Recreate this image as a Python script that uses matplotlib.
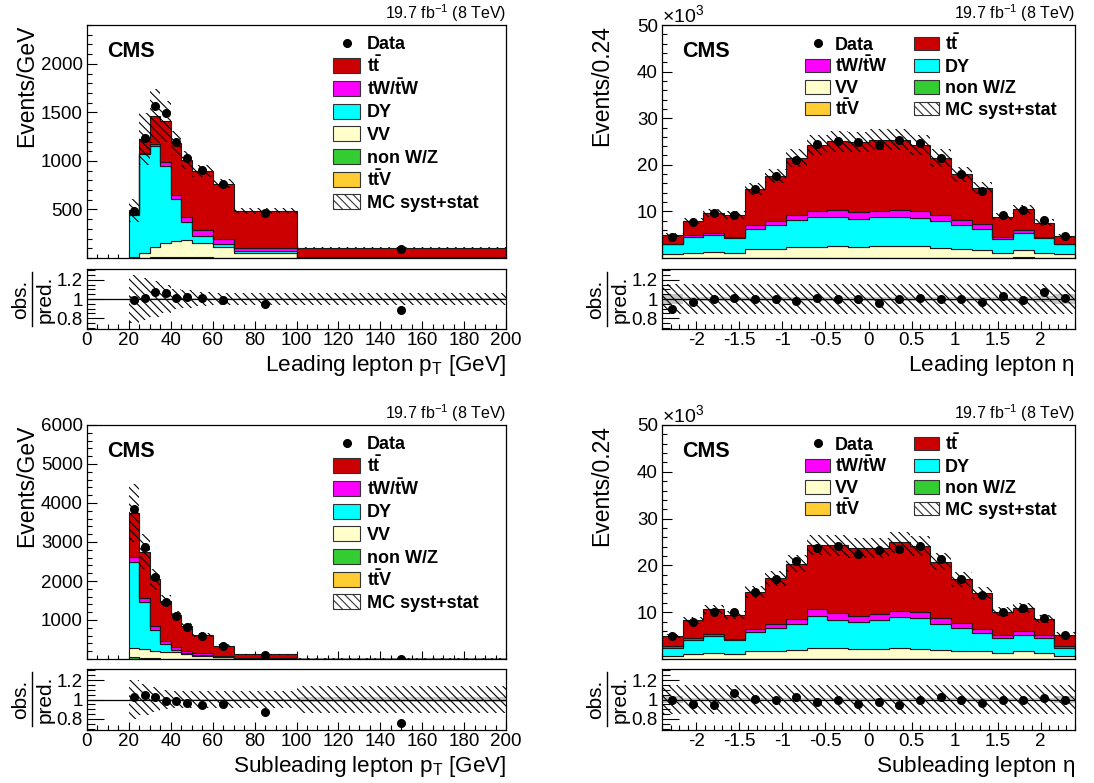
import numpy as np
import matplotlib
matplotlib.use('Agg')
import matplotlib.pyplot as plt
from matplotlib.patches import Rectangle
from matplotlib.lines import Line2D
from matplotlib.ticker import FixedLocator, MultipleLocator, NullFormatter, FixedFormatter

plt.rcParams['font.family'] = ['Liberation Sans', 'DejaVu Sans']
plt.rcParams['mathtext.fontset'] = 'custom'
plt.rcParams['mathtext.rm'] = 'Liberation Sans'
plt.rcParams['mathtext.it'] = 'Liberation Sans:italic'
plt.rcParams['mathtext.bf'] = 'Liberation Sans:bold'
plt.rcParams['hatch.color'] = 'black'
plt.rcParams['hatch.linewidth'] = 0.8

# ---------------- data ----------------
pt_edges = [20, 25, 30, 35, 40, 45, 50, 60, 70, 100, 200]
eta_edges = [-2.4, -2.16, -1.92, -1.68, -1.44, -1.2, -0.96, -0.72, -0.48, -0.24, 0.0,
             0.24, 0.48, 0.72, 0.96, 1.2, 1.44, 1.68, 1.92, 2.16, 2.4]

# Leading lepton pT  (Events/GeV)
lpt_data  = [485, 1237, 1569, 1492, 1195, 1031, 909, 758, 462, 96]
lpt_tt    = [38, 140, 291, 421, 533, 591, 611, 570, 383, 100]
lpt_tw    = [12, 15, 17, 36, 45, 52, 62, 51, 27, 3]
lpt_dy    = [427, 1015, 1041, 800, 430, 183, 76, 28, 21, 1]
lpt_vv    = [10, 50, 111, 145, 168, 175, 145, 112, 52, 3]
lpt_nonwz = [2, 3, 4, 4, 5, 8, 4, 3, 2, 0.5]
lpt_ttv   = [1, 2, 2, 2, 2, 2, 2, 2, 1, 0.5]
lpt_unc   = [0.25, 0.22, 0.19, 0.15, 0.11, 0.09, 0.07, 0.06, 0.06, 0.065]
lpt_stat  = [0.03, 0.012, 0.012, 0.012, 0.012, 0.01, 0.008, 0.008, 0.008, 0.008]

# Subleading lepton pT (Events/GeV)
slpt_data  = [3850, 2879, 2097, 1468, 1114, 818, 579, 327, 104, 9.1]
slpt_tt    = [1129, 1188, 1188, 1025, 835, 637, 448, 267, 100, 10]
slpt_tw    = [119, 103, 103, 86, 70, 65, 60, 22, 8, 1]
slpt_dy    = [2221, 1214, 534, 198, 60, 21, 26, 15, 2, 0.2]
slpt_vv    = [233, 222, 198, 177, 162, 122, 72, 37, 8.5, 0.65]
slpt_nonwz = [40, 25, 15, 10, 8, 6, 4, 2, 1, 0.1]
slpt_ttv   = [3, 3, 2, 2, 2, 1, 1, 1, 0.5, 0.05]
slpt_unc   = [0.2, 0.16, 0.13, 0.1, 0.09, 0.09, 0.09, 0.09, 0.09, 0.14]
slpt_stat  = [0.008, 0.008, 0.008, 0.008, 0.008, 0.008, 0.008, 0.008, 0.008, 0.025]

# Leading lepton eta (Events/0.24, x10^3)
leta_data  = [4.41, 7.73, 9.64, 9.29, 14.86, 17.6, 21.07, 24.54, 25.1, 24.9,
              24.26, 25.4, 24.66, 21.4, 18.0, 14.48, 9.17, 10.4, 8.13, 4.77]
leta_tt    = [1.83, 3.11, 4.21, 4.63, 7.83, 9.63, 12.22, 14.3, 14.9, 15.12,
              15.3, 15.0, 14.3, 12.2, 9.9, 7.75, 4.33, 4.46, 3.03, 1.6]
leta_tw    = [0.2, 0.29, 0.57, 0.29, 0.73, 0.94, 1.09, 1.3, 1.36, 1.45,
              1.4, 1.5, 1.45, 1.23, 1.07, 0.95, 0.44, 0.65, 0.37, 0.2]
leta_dy    = [1.95, 3.47, 3.56, 3.18, 4.34, 5.07, 5.89, 6.4, 6.34, 5.93,
              6.2, 6.35, 6.05, 5.77, 5.07, 4.63, 3.03, 3.62, 3.1, 2.03]
leta_vv    = [0.87, 1.02, 1.22, 1.02, 1.88, 1.88, 2.22, 2.22, 2.42, 2.32,
              2.42, 2.47, 2.42, 2.12, 1.88, 1.59, 1.02, 1.59, 1.02, 0.79]
leta_nonwz = [0.05, 0.05, 0.05, 0.05, 0.05, 0.05, 0.05, 0.05, 0.05, 0.05,
              0.05, 0.05, 0.05, 0.05, 0.05, 0.05, 0.05, 0.12, 0.05, 0.05]
leta_ttv   = [0.03, 0.03, 0.03, 0.03, 0.03, 0.03, 0.03, 0.03, 0.03, 0.03,
              0.03, 0.03, 0.03, 0.03, 0.03, 0.03, 0.03, 0.03, 0.03, 0.03]
leta_unc   = [0.09] * 20
leta_runc  = [0.16] * 20
leta_stat  = [0.05, 0.025, 0.025, 0.025, 0.025, 0.025, 0.025, 0.025, 0.025, 0.025,
              0.025, 0.025, 0.025, 0.025, 0.025, 0.025, 0.025, 0.025, 0.03, 0.055]

# Subleading lepton eta (Events/0.24, x10^3)
seta_data  = [4.81, 7.95, 10.0, 10.1, 14.4, 17.1, 20.9, 23.8, 24.1, 22.5,
              23.3, 23.4, 24.1, 21.3, 17.0, 13.6, 10.1, 10.9, 8.7, 5.2]
seta_tt    = [2.16, 3.76, 5.22, 5.15, 7.85, 9.79, 11.85, 13.75, 14.52, 14.42,
              14.16, 14.6, 14.0, 12.1, 9.4, 7.6, 5.03, 4.96, 3.48, 2.52]
seta_tw    = [0.3, 0.44, 0.57, 0.36, 0.7, 0.94, 1.09, 1.45, 1.45, 1.45,
              1.31, 1.4, 1.4, 1.24, 1.08, 0.85, 0.58, 0.74, 0.58, 0.28]
seta_dy    = [1.68, 3.03, 3.56, 2.89, 4.0, 4.72, 5.5, 6.8, 6.03, 5.63,
              6.13, 6.6, 6.5, 5.5, 4.72, 3.98, 3.19, 3.53, 3.19, 1.68]
seta_vv    = [0.64, 1.02, 1.22, 1.02, 1.72, 1.72, 1.88, 2.32, 2.22, 2.12,
              2.12, 2.22, 2.12, 1.88, 1.72, 1.59, 1.22, 1.59, 1.22, 0.64]
seta_nonwz = [0.05, 0.05, 0.05, 0.05, 0.05, 0.05, 0.05, 0.05, 0.05, 0.05,
              0.05, 0.05, 0.05, 0.05, 0.05, 0.05, 0.05, 0.05, 0.05, 0.05]
seta_ttv   = [0.03, 0.03, 0.03, 0.03, 0.03, 0.03, 0.03, 0.03, 0.03, 0.03,
              0.03, 0.03, 0.03, 0.03, 0.03, 0.03, 0.03, 0.03, 0.03, 0.03]
seta_unc   = [0.09] * 20
seta_runc  = [0.15] * 20
seta_stat  = [0.04, 0.02, 0.02, 0.02, 0.02, 0.02, 0.02, 0.02, 0.02, 0.02,
              0.02, 0.02, 0.02, 0.02, 0.02, 0.02, 0.02, 0.02, 0.02, 0.04]

labels = {
    'data': 'Data',
    'tt': r'$\mathbf{t\bar{t}}$',
    'tw': r'$\mathbf{tW/\bar{t}W}$',
    'dy': 'DY',
    'vv': 'VV',
    'nonwz': 'non W/Z',
    'ttv': r'$\mathbf{t\bar{t}V}$',
    'unc': 'MC syst+stat',
}
colors = {'tt': '#cc0000', 'tw': '#ff00ff', 'dy': '#00ffff', 'vv': '#ffffcc',
          'nonwz': '#33cc33', 'ttv': '#ffcc33'}

# ---------------- figure ----------------
FW, FH, DPI = 1094, 783, 100
fig = plt.figure(figsize=(FW / DPI, FH / DPI), dpi=DPI)


def add_ax(x0, y0, x1, y1):
    ax = fig.add_axes([x0 / FW, 1 - y1 / FH, (x1 - x0) / FW, (y1 - y0) / FH])
    ax._pxw = x1 - x0
    ax._pxh = y1 - y0
    for s in ax.spines.values():
        s.set_linewidth(0.9)
    return ax


def fx(ax, dx):
    return dx / ax._pxw


def fy(ax, dy_from_top):
    return 1 - dy_from_top / ax._pxh


HATCH = chr(92) * 4


def draw(ax, axr, edges, data, comps, unc, runc, stat, scale_counts, is_eta):
    edges = np.asarray(edges, float)
    widths = np.diff(edges)
    centers = 0.5 * (edges[1:] + edges[:-1])
    base = np.zeros(len(widths))
    for key in ['ttv', 'nonwz', 'vv', 'dy', 'tw', 'tt']:
        top = base + np.asarray(comps[key], float)
        ax.stairs(top, edges, baseline=base.copy(), fill=True, facecolor=colors[key],
                  edgecolor='#1a1a1a', linewidth=0.8, zorder=2)
        base = top
    total = base
    unc = np.asarray(unc, float)
    ax.stairs(total * (1 + unc), edges, baseline=total * (1 - unc), fill=True,
              facecolor='none', edgecolor='black', hatch=HATCH, linewidth=0, zorder=3)
    data = np.asarray(data, float)
    if is_eta:
        err = np.sqrt(data * scale_counts) / scale_counts
    else:
        err = np.sqrt(data * widths) / widths
    ax.errorbar(centers, data, yerr=err, fmt='o', color='black', markersize=5.5,
                elinewidth=1, capsize=0, zorder=5)
    # ratio
    stat = np.asarray(stat, float)
    runc = np.asarray(runc, float)
    axr.stairs(1 + stat, edges, baseline=1 - stat, fill=True, facecolor='#c8c8c8',
               edgecolor='none', linewidth=0, zorder=1)
    axr.stairs(1 + runc, edges, baseline=1 - runc, fill=True, facecolor='none',
               edgecolor='black', hatch=HATCH, linewidth=0, zorder=2)
    axr.axhline(1.0, color='black', linewidth=0.9, zorder=3)
    ratio = data / total
    axr.errorbar(centers, ratio, yerr=err / total, fmt='o', color='black',
                 markersize=5.5, elinewidth=1, capsize=0, zorder=5)


def style_axes(ax, axr, xlim, xmaj, xmin, xlabels, ylim, ymaj, ymin, ylabels):
    for a in (ax, axr):
        a.set_xlim(*xlim)
        a.xaxis.set_major_locator(FixedLocator(xmaj))
        a.xaxis.set_minor_locator(MultipleLocator(xmin))
        a.tick_params(which='both', direction='in', top=False, right=False)
    ax.set_ylim(*ylim)
    ax.yaxis.set_major_locator(FixedLocator(ymaj))
    ax.yaxis.set_major_formatter(FixedFormatter(ylabels))
    ax.yaxis.set_minor_locator(MultipleLocator(ymin))
    ax.xaxis.set_major_formatter(NullFormatter())
    ax.tick_params(axis='y', which='major', length=7, width=0.8, labelsize=13.5, pad=3)
    ax.tick_params(axis='y', which='minor', length=3.5, width=0.8)
    ax.tick_params(axis='x', which='major', length=5.5, width=0.8)
    ax.tick_params(axis='x', which='minor', length=3, width=0.8)
    axr.set_ylim(0.685, 1.315)
    axr.yaxis.set_major_locator(FixedLocator([0.8, 1.0, 1.2]))
    axr.yaxis.set_major_formatter(FixedFormatter(['0.8', '1', '1.2']))
    axr.yaxis.set_minor_locator(MultipleLocator(0.05))
    axr.xaxis.set_major_formatter(FixedFormatter(xlabels))
    axr.tick_params(axis='y', which='major', length=12, width=0.8, labelsize=13.5, pad=3)
    axr.tick_params(axis='y', which='minor', length=6, width=0.8)
    axr.tick_params(axis='x', which='major', length=6, width=0.8, labelsize=13.5, pad=2)
    axr.tick_params(axis='x', which='minor', length=3.5, width=0.8)


def texts(ax, axr, xlabel, ylabel, eta):
    # CMS
    ax.text(fx(ax, 20), fy(ax, 32), 'CMS', transform=ax.transAxes, fontsize=15.5,
            fontweight='bold', ha='left', va='baseline', zorder=10)
    # lumi
    ax.text(1.0, 1 + 6.5 / ax._pxh, r'19.7 fb$^{-1}$ (8 TeV)', transform=ax.transAxes,
            fontsize=11.5, ha='right', va='baseline')
    # y label
    ax.text(fx(ax, -60), 1.0, ylabel, transform=ax.transAxes, rotation=90,
            fontsize=16.5, ha='center', va='top')
    # ratio y label (fraction)
    axr.text(fx(axr, -66), 0.5, 'obs.', transform=axr.transAxes, rotation=90,
             fontsize=15, ha='center', va='center')
    axr.text(fx(axr, -42), 0.5, 'pred.', transform=axr.transAxes, rotation=90,
             fontsize=15, ha='center', va='center')
    axr.add_line(Line2D([fx(axr, -55), fx(axr, -55)], [fy(axr, 3), fy(axr, 57)],
                        transform=axr.transAxes, color='black', linewidth=1.0,
                        clip_on=False))
    # x label
    axr.text(1.0, fy(axr, axr._pxh + 42), xlabel, transform=axr.transAxes,
             fontsize=16.2, ha='right', va='baseline')
    if eta:
        ax.text(0.0, 1 + 3 / ax._pxh, r'$\times$10$^{3}$', transform=ax.transAxes,
                fontsize=14, ha='left', va='baseline')


def draw_entry(ax, key, hx0, hw, hh, tx, cy):
    if key == 'data':
        ax.plot([fx(ax, hx0 + hw / 2)], [fy(ax, cy)], 'o', color='black', markersize=5.5,
                transform=ax.transAxes, clip_on=False, zorder=10)
    else:
        if key == 'unc':
            r = Rectangle((fx(ax, hx0), fy(ax, cy + hh / 2)), hw / ax._pxw, hh / ax._pxh,
                          transform=ax.transAxes, facecolor='white', edgecolor='#333333',
                          hatch=HATCH, linewidth=0.8, zorder=10, clip_on=False)
        else:
            r = Rectangle((fx(ax, hx0), fy(ax, cy + hh / 2)), hw / ax._pxw, hh / ax._pxh,
                          transform=ax.transAxes, facecolor=colors[key], edgecolor='#333333',
                          linewidth=0.8, zorder=10, clip_on=False)
        ax.add_patch(r)
    ax.text(fx(ax, tx), fy(ax, cy + 6.3), labels[key], transform=ax.transAxes,
            fontsize=13, fontweight='bold', ha='left', va='baseline', zorder=10)


def legend_single(ax):
    entries = ['data', 'tt', 'tw', 'dy', 'vv', 'nonwz', 'ttv', 'unc']
    hx0, hw, hh, tx = 246, 27, 15, 280
    for i, key in enumerate(entries):
        cy = 18 + 22.7 * i
        draw_entry(ax, key, hx0, hw, hh, tx, cy)


def legend_double(ax):
    cols = [(['data', 'tw', 'vv', 'ttv'], 143, 173), (['tt', 'dy', 'nonwz', 'unc'], 252, 283)]
    hw, hh = 25, 13.5
    rows = [18.3, 40.3, 62.0, 83.7]
    for keys, hx0, tx in cols:
        for key, cy in zip(keys, rows):
            draw_entry(ax, key, hx0, hw, hh, tx, cy)


# axes
ax_tl = add_ax(87, 25, 506, 258)
axr_tl = add_ax(87, 269, 506, 329)
ax_tr = add_ax(662, 25, 1075, 258)
axr_tr = add_ax(662, 269, 1075, 329)
ax_bl = add_ax(87, 425, 506, 659)
axr_bl = add_ax(87, 669, 506, 730)
ax_br = add_ax(662, 425, 1075, 659)
axr_br = add_ax(662, 669, 1075, 730)

pt_xmaj = [0, 20, 40, 60, 80, 100, 120, 140, 160, 180, 200]
pt_xlab = [str(v) for v in pt_xmaj]
eta_xmaj = [-2, -1.5, -1, -0.5, 0, 0.5, 1, 1.5, 2]
eta_xlab = ['-2', '-1.5', '-1', '-0.5', '0', '0.5', '1', '1.5', '2']

# top-left
draw(ax_tl, axr_tl, pt_edges, lpt_data,
     dict(tt=lpt_tt, tw=lpt_tw, dy=lpt_dy, vv=lpt_vv, nonwz=lpt_nonwz, ttv=lpt_ttv),
     lpt_unc, lpt_unc, lpt_stat, None, False)
style_axes(ax_tl, axr_tl, (0, 200), pt_xmaj, 5, pt_xlab, (0, 2400),
           [500, 1000, 1500, 2000], 100, ['500', '1000', '1500', '2000'])
texts(ax_tl, axr_tl, r'Leading lepton p$_{\mathregular{T}}$ [GeV]', 'Events/GeV', False)
legend_single(ax_tl)

# bottom-left
draw(ax_bl, axr_bl, pt_edges, slpt_data,
     dict(tt=slpt_tt, tw=slpt_tw, dy=slpt_dy, vv=slpt_vv, nonwz=slpt_nonwz, ttv=slpt_ttv),
     slpt_unc, slpt_unc, slpt_stat, None, False)
style_axes(ax_bl, axr_bl, (0, 200), pt_xmaj, 5, pt_xlab, (0, 6000),
           [1000, 2000, 3000, 4000, 5000, 6000], 200,
           ['1000', '2000', '3000', '4000', '5000', '6000'])
texts(ax_bl, axr_bl, r'Subleading lepton p$_{\mathregular{T}}$ [GeV]', 'Events/GeV', False)
legend_single(ax_bl)

# top-right
draw(ax_tr, axr_tr, eta_edges, leta_data,
     dict(tt=leta_tt, tw=leta_tw, dy=leta_dy, vv=leta_vv, nonwz=leta_nonwz, ttv=leta_ttv),
     leta_unc, leta_runc, leta_stat, 1000.0, True)
style_axes(ax_tr, axr_tr, (-2.4, 2.4), eta_xmaj, 0.1, eta_xlab, (0, 50),
           [10, 20, 30, 40, 50], 2, ['10', '20', '30', '40', '50'])
texts(ax_tr, axr_tr, r'Leading lepton $\mathregular{\eta}$', 'Events/0.24', True)
legend_double(ax_tr)

# bottom-right
draw(ax_br, axr_br, eta_edges, seta_data,
     dict(tt=seta_tt, tw=seta_tw, dy=seta_dy, vv=seta_vv, nonwz=seta_nonwz, ttv=seta_ttv),
     seta_unc, seta_runc, seta_stat, 1000.0, True)
style_axes(ax_br, axr_br, (-2.4, 2.4), eta_xmaj, 0.1, eta_xlab, (0, 50),
           [10, 20, 30, 40, 50], 2, ['10', '20', '30', '40', '50'])
texts(ax_br, axr_br, r'Subleading lepton $\mathregular{\eta}$', 'Events/0.24', True)
legend_double(ax_br)

fig.savefig('out.png', dpi=DPI)
